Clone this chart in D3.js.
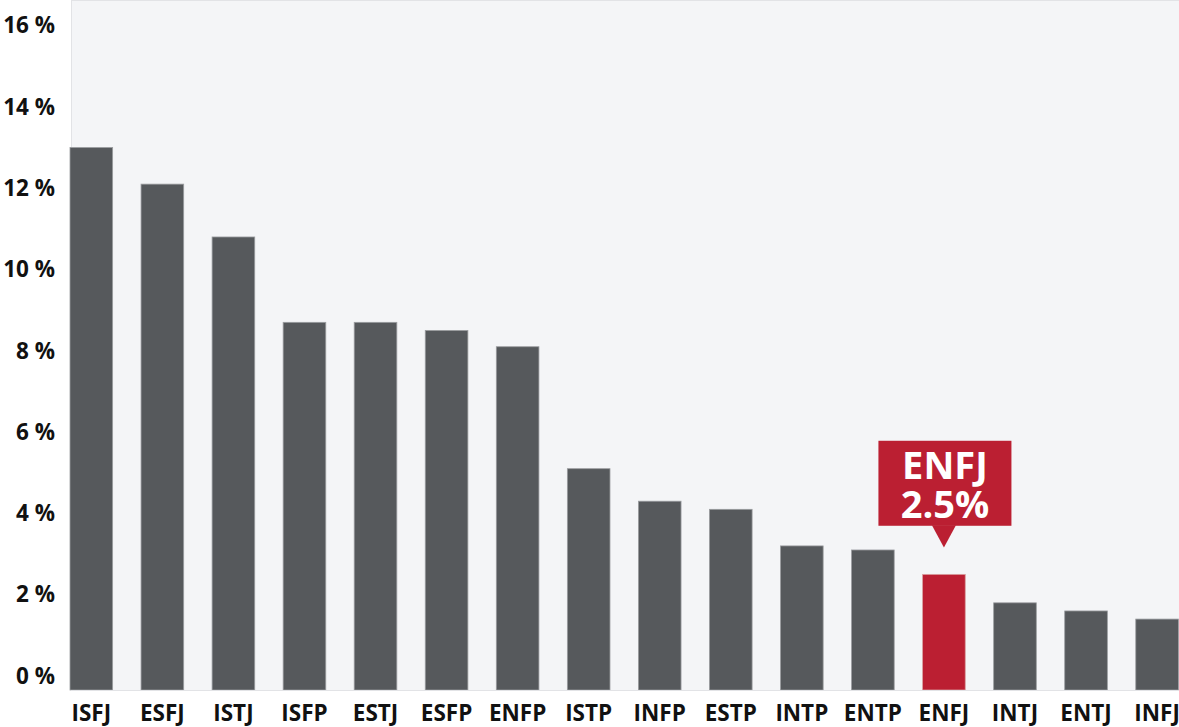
<!DOCTYPE html>
<html>
<head>
<meta charset="utf-8">
<script src="https://cdn.jsdelivr.net/npm/d3@7"></script>
<style>
  html, body { margin: 0; padding: 0; background: #ffffff; }
  svg { display: block; font-family: "Open Sans", "Noto Sans", sans-serif; }
</style>
</head>
<body>
<svg id="chart" width="1179" height="727"></svg>
<script>
const types = ["ISFJ","ESFJ","ISTJ","ISFP","ESTJ","ESFP","ENFP","ISTP","INFP","ESTP","INTP","ENTP","ENFJ","INTJ","ENTJ","INFJ"];
const shares = [13.0, 12.1, 10.8, 8.7, 8.7, 8.5, 8.1, 5.1, 4.3, 4.1, 3.2, 3.1, 2.5, 1.8, 1.6, 1.4];
const yTicks = [0, 2, 4, 6, 8, 10, 12, 14, 16];
const highlight = "ENFJ";
const calloutLines = ["ENFJ", "2.5%"];

const W = 1179, H = 727;
const plot = { left: 71, right: 1179, top: 0, bottom: 690 };

const svg = d3.select("#chart");

const x = d3.scaleBand()
  .domain(types)
  .range([70, 1178.4])
  .paddingInner(0.4)
  .paddingOuter(0);

const y = d3.scaleLinear()
  .domain([0, 16])
  .range([676, 25.6]);

// plot background
svg.append("rect")
  .attr("x", plot.left)
  .attr("y", plot.top)
  .attr("width", plot.right - plot.left)
  .attr("height", plot.bottom - plot.top)
  .attr("fill", "#f4f5f7");

// plot border lines
svg.append("line")
  .attr("x1", plot.left + 0.5).attr("x2", plot.left + 0.5)
  .attr("y1", plot.top).attr("y2", plot.bottom)
  .attr("stroke", "#e2e3e6").attr("stroke-width", 1);
svg.append("line")
  .attr("x1", plot.left).attr("x2", plot.right)
  .attr("y1", plot.top + 0.5).attr("y2", plot.top + 0.5)
  .attr("stroke", "#e2e3e6").attr("stroke-width", 1);

// bars
svg.append("g")
  .selectAll("rect")
  .data(types.map((t, i) => ({ t, v: shares[i] })))
  .join("rect")
  .attr("x", d => x(d.t))
  .attr("y", d => y(d.v))
  .attr("width", x.bandwidth())
  .attr("height", d => plot.bottom - y(d.v))
  .attr("fill", d => d.t === highlight ? "#bb1f32" : "#56595c")
  .attr("stroke", d => d.t === highlight ? "#d9a0a0" : "#9a9c9f")
  .attr("stroke-width", 0.8);

// bottom line
svg.append("line")
  .attr("x1", plot.left).attr("x2", plot.right)
  .attr("y1", plot.bottom + 0.5).attr("y2", plot.bottom + 0.5)
  .attr("stroke", "#e2e3e6").attr("stroke-width", 1);

// y axis
const yAxis = svg.append("g")
  .attr("transform", `translate(${plot.left},0)`)
  .call(d3.axisLeft(y).tickValues(yTicks).tickFormat(d => d + " %").tickSize(0).tickPadding(16));
yAxis.select(".domain").remove();
yAxis.selectAll("text")
  .attr("font-family", "'Open Sans', sans-serif")
  .attr("font-size", 22.5)
  .attr("font-weight", 700)
  .attr("fill", "#111111");

// x axis
const xAxis = svg.append("g")
  .attr("transform", `translate(0,${plot.bottom})`)
  .call(d3.axisBottom(x).tickSize(0).tickPadding(15));
xAxis.select(".domain").remove();
xAxis.selectAll("text")
  .attr("font-family", "'Open Sans', sans-serif")
  .attr("font-size", 22.5)
  .attr("font-weight", 700)
  .attr("fill", "#111111");

// callout
const hi = types.indexOf(highlight);
const cx = x(highlight) + x.bandwidth() / 2;
const tipY = y(shares[hi]) - 27;
const boxW = 133, boxH = 85, ptrH = 21.6, ptrW = 24;
const boxBottom = tipY - ptrH;
const boxTop = boxBottom - boxH;
const callout = svg.append("g");
callout.append("rect")
  .attr("x", cx - boxW / 2 + 1)
  .attr("y", boxTop)
  .attr("width", boxW)
  .attr("height", boxH)
  .attr("fill", "#bb1f32");
callout.append("path")
  .attr("d", `M${cx - ptrW / 2},${boxBottom - 0.5} L${cx + ptrW / 2},${boxBottom - 0.5} L${cx},${tipY} Z`)
  .attr("fill", "#bb1f32");
callout.append("text")
  .attr("text-anchor", "middle")
  .attr("font-family", "'Open Sans', sans-serif")
  .attr("font-size", 38)
  .attr("font-weight", 700)
  .attr("fill", "#ffffff")
  .selectAll("tspan")
  .data(calloutLines)
  .join("tspan")
  .attr("x", cx + 1)
  .attr("y", (d, i) => boxTop + 38 + i * 39.5)
  .text(d => d);
</script>
</body>
</html>
